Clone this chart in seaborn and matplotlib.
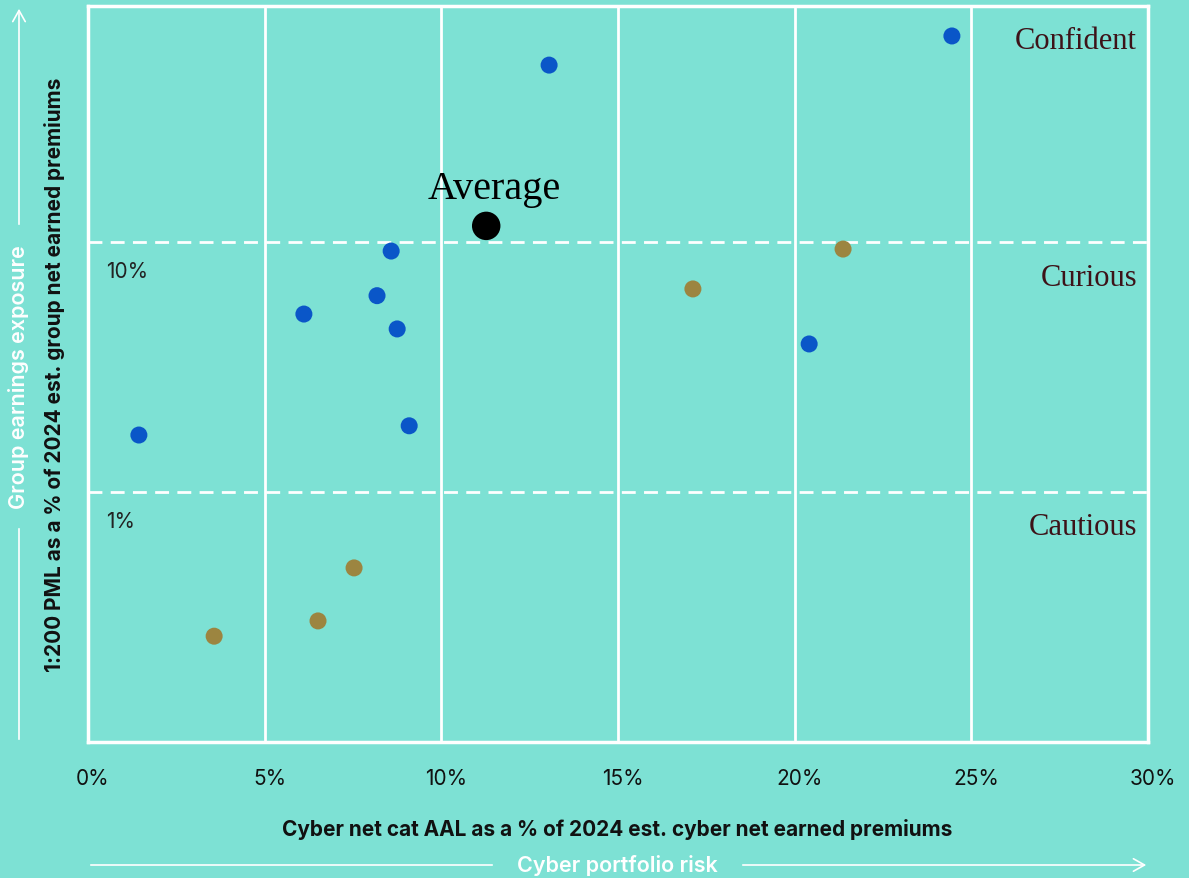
import numpy as np
import pandas as pd
import matplotlib.pyplot as plt
import matplotlib.transforms as mtransforms
import seaborn as sns

## Data
aal_pct = [24.45, 13.05, 8.58, 8.18, 6.11, 8.75, 20.41, 9.09, 1.44,
           21.37, 17.12, 7.53, 6.51, 3.57]
pml_pct = [66.7, 51.0, 9.2, 6.1, 5.15, 4.49, 3.91, 1.84, 1.69,
           9.37, 6.49, 0.497, 0.305, 0.265]
group = ['blue'] * 9 + ['gold'] * 5
avg_x = [11.27]
avg_y = [11.6]

x_ticks = [0, 5, 10, 15, 20, 25, 30]
x_tick_labels = ['0%', '5%', '10%', '15%', '20%', '25%', '30%']
band_lines = [10, 1]
band_line_labels = ['10%', '1%']
zones = ['Confident', 'Curious', 'Cautious']
zone_y = [64, 7.24, 0.73]

df = pd.DataFrame({'aal': aal_pct, 'pml': pml_pct, 'group': group})

BG = '#7de1d4'
palette = {'blue': '#0a56c8', 'gold': '#9c8540'}
MAROON = '#3d1218'

sns.set_style('white')
plt.rcParams['font.family'] = ['Inter', 'DejaVu Sans']

fig = plt.figure(figsize=(11.89, 8.79), dpi=100)
fig.patch.set_facecolor(BG)
ax = fig.add_axes([88 / 1189, 136 / 879, 1060 / 1189, 736 / 879])
ax.set_facecolor(BG)

ax.set_yscale('log')
ax.set_xlim(0, 30)
ax.set_ylim(0.1, 10 ** 1.944)

# vertical grid + frame
for xv in x_ticks[1:-1]:
    ax.axvline(xv, color='white', lw=2, zorder=1)
for s in ax.spines.values():
    s.set_color('white')
    s.set_linewidth(2.5)
for yv, lab in zip(band_lines, band_line_labels):
    ax.axhline(yv, color='white', lw=2, ls=(0, (5, 3)), zorder=1)
    ax.annotate(lab, xy=(0, yv), xytext=(13, -21), textcoords='offset points',
                fontsize=15, color='#222222', va='center', ha='left')

sns.scatterplot(data=df, x='aal', y='pml', hue='group', palette=palette,
                s=150, edgecolor='none', legend=False, ax=ax, zorder=3)
sns.scatterplot(x=avg_x, y=avg_y, color='black', s=420, edgecolor='none',
                legend=False, ax=ax, zorder=4)
ax.text(11.49, 16.3, 'Average', fontsize=29, family='Liberation Serif',
        ha='center', va='center', color='black')

for z, zy in zip(zones, zone_y):
    ax.text(29.69, zy, z, fontsize=22, family='Liberation Serif',
            ha='right', va='center', color=MAROON)

ax.set_xticks(x_ticks)
ax.set_xticklabels(x_tick_labels, fontsize=15, color='#111111')
ax.tick_params(axis='x', length=0, pad=19)
shift = mtransforms.ScaledTranslation(5 / 100, 0, fig.dpi_scale_trans)
for t in ax.get_xticklabels():
    t.set_transform(t.get_transform() + shift)
ax.set_yticks([])
ax.minorticks_off()
ax.set_yticks([], minor=True)
ax.set_xlabel('')
ax.set_ylabel('')

fig.text(617 / 1189, 1 - 830 / 879,
         'Cyber net cat AAL as a % of 2024 est. cyber net earned premiums',
         fontsize=15, fontweight='bold', ha='center', va='center', color='#111111')
fig.text(55 / 1189, 1 - 375 / 879,
         '1:200 PML as a % of 2024 est. group net earned premiums',
         fontsize=15, fontweight='bold', ha='center', va='center',
         rotation=90, color='#111111')

# arrows with labels
fig.text(617 / 1189, 1 - 866 / 879, 'Cyber portfolio risk', fontsize=15.5,
         fontweight='semibold', ha='center', va='center', color='white')
fig.text(19 / 1189, 1 - 377 / 879, 'Group earnings exposure', fontsize=15.5,
         fontweight='semibold', ha='center', va='center', rotation=90, color='white')


def fpx(x, y):
    return (x, 879 - y)


line = dict(arrowstyle='-', color='white', lw=1.2)
head = dict(arrowstyle='->,head_length=0.8,head_width=0.45', color='white', lw=1.2)
ax.annotate('', xy=fpx(495, 866), xytext=fpx(88, 866), xycoords='figure pixels',
            textcoords='figure pixels', arrowprops=line, annotation_clip=False)
ax.annotate('', xy=fpx(1149, 866), xytext=fpx(740, 866), xycoords='figure pixels',
            textcoords='figure pixels', arrowprops=head, annotation_clip=False)
ax.annotate('', xy=fpx(19, 527), xytext=fpx(19, 743), xycoords='figure pixels',
            textcoords='figure pixels', arrowprops=line, annotation_clip=False)
ax.annotate('', xy=fpx(19, 7), xytext=fpx(19, 228), xycoords='figure pixels',
            textcoords='figure pixels', arrowprops=head, annotation_clip=False)

fig.savefig('out.png', dpi=100, facecolor=BG)
